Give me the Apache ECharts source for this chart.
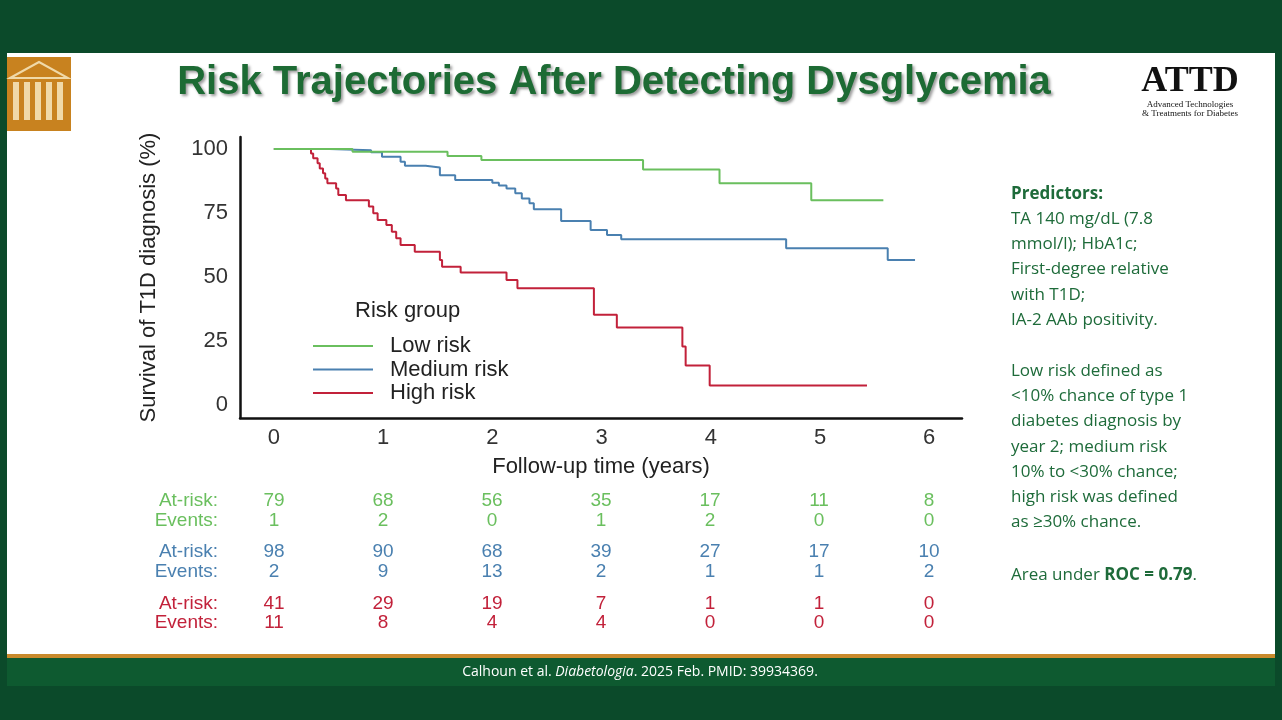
<!DOCTYPE html>
<html><head><meta charset="utf-8">
<script src="https://cdn.jsdelivr.net/npm/echarts@6/dist/echarts.min.js"></script>
<style>html,body{margin:0;padding:0;background:#0b4a2a}#c{width:1282px;height:720px}</style>
</head><body><div id="c"></div>
<script>
const seriesNames = ['Low risk','Medium risk','High risk'];
const lowRisk = [[0,100],[0.72,98.9],[1.59,97.3],[1.90,95.7],[3.38,92],[4.08,86.6],[4.92,80],[5.58,80]];
const mediumRisk = [[0,100],[0.51,99.5],[0.89,98.7],[0.99,97],[1.16,95],[1.20,93.5],[1.39,92.8],[1.52,89.8],[1.66,87.9],[2.00,86.8],[2.06,85.7],[2.13,84.6],[2.21,82.7],[2.27,80.7],[2.34,78.8],[2.38,76.5],[2.63,71.9],[2.90,68.4],[3.05,66.4],[3.18,64.7],[4.69,61.2],[5.62,56.6],[5.87,56.6]];
const highRisk = [[0,100],[0.34,98.3],[0.36,96.4],[0.40,94.4],[0.42,92.4],[0.45,90.5],[0.47,88.5],[0.49,86.6],[0.57,84.6],[0.59,82],[0.66,80],[0.87,77.5],[0.91,74.9],[0.95,72.3],[1.03,70.3],[1.08,67.7],[1.12,65.1],[1.16,62.5],[1.29,59.9],[1.52,56.6],[1.54,54],[1.71,51.8],[2.13,48.8],[2.23,45.6],[2.93,35.2],[3.14,30.3],[3.74,22.8],[3.77,15.4],[3.99,7.6],[5.43,7.6]];
const xTicks = [0,1,2,3,4,5,6];
const yTicks = [0,25,50,75,100];
const lowAtRisk = [79,68,56,35,17,11,8];
const lowEvents = [1,2,0,1,2,0,0];
const medAtRisk = [98,90,68,39,27,17,10];
const medEvents = [2,9,13,2,1,1,2];
const highAtRisk = [41,29,19,7,1,1,0];
const highEvents = [11,8,4,4,0,0,0];
const colors = ['#6abf5e','#4a80b0','#c2213a'];
const rightText = ['TA 140 mg/dL (7.8','mmol/l); HbA1c;','First-degree relative','with T1D;','IA-2 AAb positivity.','','Low risk defined as','<10% chance of type 1','diabetes diagnosis by','year 2; medium risk','10% to <30% chance;','high risk was defined','as ≥30% chance.'];

const chart = echarts.init(document.getElementById('c'));
const g = [];
g.push({type:'rect',shape:{x:7,y:53,width:1268,height:602},style:{fill:'#ffffff'},z:-10});
g.push({type:'rect',shape:{x:7,y:654,width:1268,height:4},style:{fill:'#c98a2c'},z:-9});
g.push({type:'rect',shape:{x:7,y:658,width:1268,height:28},style:{fill:'#0e5a30'},z:-9});
g.push({type:'rect',shape:{x:7,y:57,width:64,height:74},style:{fill:'#c8821f'},z:-9});
for(let i=0;i<5;i++) g.push({type:'rect',shape:{x:13+i*11,y:82,width:6,height:38},style:{fill:'#f0d9a8'}});
g.push({type:'polygon',shape:{points:[[10,78],[39,62],[68,78]]},style:{fill:'none',stroke:'#f0d9a8',lineWidth:2}});
g.push({type:'text',x:614,y:83,style:{text:'Risk Trajectories After Detecting Dysglycemia',font:'bold 40px "Liberation Sans", Arial',fill:'#1d6b34',align:'center',verticalAlign:'middle',textShadowColor:'rgba(0,0,0,0.4)',textShadowBlur:3,textShadowOffsetX:2,textShadowOffsetY:2}});
g.push({type:'text',x:1190,y:82,style:{text:'ATTD',font:'bold 36px "Liberation Serif", serif',fill:'#111',align:'center',verticalAlign:'middle'}});
g.push({type:'text',x:1190,y:109,style:{text:'Advanced Technologies\n& Treatments for Diabetes',font:'9px "Liberation Serif", serif',fill:'#111',align:'center',verticalAlign:'middle',lineHeight:9}});
g.push({type:'text',x:355,y:311,style:{text:'Risk group',font:'22px "Liberation Sans", Arial',fill:'#222',verticalAlign:'middle'}});
const rows=[[lowAtRisk,'At-risk:',501,0],[lowEvents,'Events:',521,0],[medAtRisk,'At-risk:',552,1],[medEvents,'Events:',572,1],[highAtRisk,'At-risk:',604,2],[highEvents,'Events:',623,2]];
const colX=[274,383,492,601,710,819,929];
rows.forEach(r=>{
  g.push({type:'text',x:218,y:r[2],style:{text:r[1],font:'19px "Liberation Sans", Arial',fill:colors[r[3]],align:'right',verticalAlign:'middle'}});
  r[0].forEach((v,i)=>g.push({type:'text',x:colX[i],y:r[2],style:{text:String(v),font:'19px "Liberation Sans", Arial',fill:colors[r[3]],align:'center',verticalAlign:'middle'}}));
});
g.push({type:'text',x:1011,y:194,style:{text:'Predictors:',font:'bold 17px "Open Sans"',fill:'#1e6b3a',verticalAlign:'middle'}});
rightText.forEach((t,i)=>g.push({type:'text',x:1011,y:219+i*25.3,style:{text:t,font:'17px "Open Sans"',fill:'#1e6b3a',verticalAlign:'middle'}}));
g.push({type:'text',x:1011,y:575,style:{text:'{a|Area under }{b|ROC = 0.79}{a|.}',rich:{a:{font:'17px "Open Sans"',fill:'#1e6b3a'},b:{font:'bold 17px "Open Sans"',fill:'#1e6b3a'}},verticalAlign:'middle'}});
g.push({type:'text',x:640,y:672,style:{text:'{a|Calhoun et al. }{i|Diabetologia}{a|. 2025 Feb. PMID: 39934369.}',rich:{a:{font:'14px "Open Sans"',fill:'#fff'},i:{font:'italic 14px "Open Sans"',fill:'#fff'}},align:'center',verticalAlign:'middle'}});

chart.setOption({
  backgroundColor:'#0b4a2a',
  animation:false,
  color:colors,
  grid:{left:240,right:320,top:137,bottom:302},
  legend:{orient:'vertical',left:313,top:335,itemWidth:60,itemHeight:20,itemGap:1.5,icon:'path://M0,9L60,9L60,11L0,11Z',padding:0,
    textStyle:{fontSize:22,lineHeight:20,height:20,color:'#222',fontFamily:'"Liberation Sans", Arial',padding:[0,0,0,12]},data:seriesNames},
  xAxis:{type:'value',min:-0.31,max:6.3,name:'Follow-up time (years)',nameLocation:'middle',nameGap:38,
    nameTextStyle:{fontSize:22,color:'#222',fontFamily:'"Liberation Sans", Arial'},
    axisLine:{onZero:false,lineStyle:{color:'#111',width:2.5}},axisTick:{show:false},splitLine:{show:false},
    axisLabel:{customValues:xTicks,fontSize:22,color:'#333',margin:9,fontFamily:'"Liberation Sans", Arial'}},
  yAxis:{type:'value',min:-5.1,max:104.7,name:'Survival of T1D diagnosis (%)',nameLocation:'middle',nameGap:80,
    nameTextStyle:{fontSize:22,color:'#222',fontFamily:'"Liberation Sans", Arial'},
    axisLine:{show:true,onZero:false,lineStyle:{color:'#111',width:2.5}},axisTick:{show:false},splitLine:{show:false},
    axisLabel:{customValues:yTicks,fontSize:22,color:'#333',margin:12,fontFamily:'"Liberation Sans", Arial'}},
  series:[lowRisk,mediumRisk,highRisk].map((d,i)=>({name:seriesNames[i],type:'line',step:'end',data:d,showSymbol:false,lineStyle:{width:2},z:3-i})),
  graphic:g
});
</script></body></html>
